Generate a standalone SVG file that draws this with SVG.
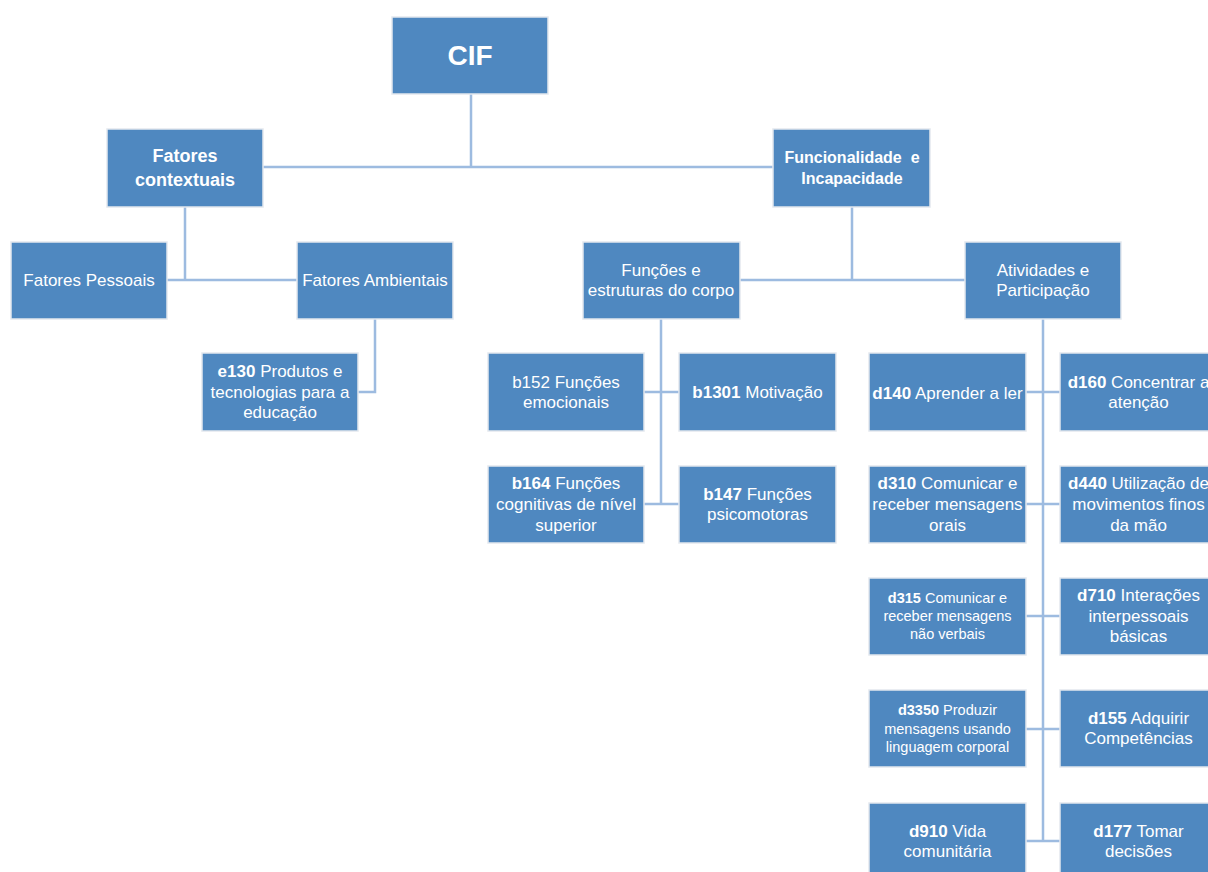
<svg xmlns="http://www.w3.org/2000/svg" width="1208" height="872" viewBox="0 0 1208 872">
<style>
.n{fill:#4F88C0;stroke:#e3e8ee;stroke-width:1.5}
text{font-family:"Liberation Sans",Arial,sans-serif;fill:#ffffff;text-anchor:middle;font-size:17px;white-space:pre}
.b{font-weight:bold}
.s{font-size:14.5px}
.c{fill:none;stroke:#9DBBE0;stroke-width:2.5}
</style>
<rect width="1208" height="872" fill="#ffffff"/>
<g id="connectors" class="c">
<path d="M471 94V167M263 167H773"/>
<path d="M185 207V280M167 280H297"/>
<path d="M375 319V392H358"/>
<path d="M852 207V280M740 280H965"/>
<path d="M661 319V504M644 392H679M644 504H679"/>
<path d="M1043 319V841M1026 392H1060M1026 504H1060M1026 616H1060M1026 729H1060M1026 841H1060"/>
</g>
<g id="cif"><rect class="n" x="392" y="17" width="156" height="77"/><text class="b" x="470" y="65" style="font-size:28px">CIF</text></g>
<g id="fatores-contextuais"><rect class="n" x="107" y="129" width="156" height="78"/><text class="b" x="185" y="162" style="font-size:18px">Fatores</text><text class="b" x="185" y="186" style="font-size:18px">contextuais</text></g>
<g id="funcionalidade"><rect class="n" x="773" y="129" width="157" height="78"/><text class="b" x="852" y="163" style="font-size:16px">Funcionalidade  e</text><text class="b" x="852" y="184" style="font-size:16px">Incapacidade</text></g>
<g id="fatores-pessoais"><rect class="n" x="11" y="242" width="156" height="77"/><text x="89" y="286">Fatores Pessoais</text></g>
<g id="fatores-ambientais"><rect class="n" x="297" y="242" width="156" height="77"/><text x="375" y="286">Fatores Ambientais</text></g>
<g id="e130"><rect class="n" x="202" y="353" width="156" height="78"/><text x="280" y="377"><tspan class="b">e130</tspan> Produtos e</text><text x="280" y="397.5">tecnologias para a</text><text x="280" y="418">educação</text></g>
<g id="funcoes-estruturas"><rect class="n" x="583" y="242" width="157" height="77"/><text x="661" y="275.5">Funções e</text><text x="661" y="296">estruturas do corpo</text></g>
<g id="atividades"><rect class="n" x="965" y="242" width="156" height="77"/><text x="1043" y="275.5">Atividades e</text><text x="1043" y="296">Participação</text></g>
<g id="b152"><rect class="n" x="488" y="353" width="156" height="78"/><text x="566" y="387.5">b152 Funções</text><text x="566" y="408">emocionais</text></g>
<g id="b1301"><rect class="n" x="679" y="353" width="157" height="78"/><text x="757.5" y="398"><tspan class="b">b1301</tspan> Motivação</text></g>
<g id="b164"><rect class="n" x="488" y="466" width="156" height="77"/><text x="566" y="489"><tspan class="b">b164</tspan> Funções</text><text x="566" y="510">cognitivas de nível</text><text x="566" y="530.5">superior</text></g>
<g id="b147"><rect class="n" x="679" y="466" width="157" height="77"/><text x="757.5" y="499.5"><tspan class="b">b147</tspan> Funções</text><text x="757.5" y="520">psicomotoras</text></g>
<g id="d140"><rect class="n" x="869" y="353" width="157" height="78"/><text x="947.5" y="398.5"><tspan class="b">d140</tspan> Aprender a ler</text></g>
<g id="d160"><rect class="n" x="1060" y="353" width="157" height="78"/><text x="1138.5" y="387.5"><tspan class="b">d160</tspan> Concentrar a</text><text x="1138.5" y="408">atenção</text></g>
<g id="d310"><rect class="n" x="869" y="466" width="157" height="77"/><text x="947.5" y="489"><tspan class="b">d310</tspan> Comunicar e</text><text x="947.5" y="510">receber mensagens</text><text x="947.5" y="530.5">orais</text></g>
<g id="d440"><rect class="n" x="1060" y="466" width="157" height="77"/><text x="1138.5" y="489"><tspan class="b">d440</tspan> Utilização de</text><text x="1138.5" y="510">movimentos finos</text><text x="1138.5" y="530.5">da mão</text></g>
<g id="d315"><rect class="n" x="869" y="578" width="157" height="77"/><text class="s" x="947.5" y="603"><tspan class="b">d315</tspan> Comunicar e</text><text class="s" x="947.5" y="621">receber mensagens</text><text class="s" x="947.5" y="639">não verbais</text></g>
<g id="d710"><rect class="n" x="1060" y="578" width="157" height="77"/><text x="1138.5" y="601"><tspan class="b">d710</tspan> Interações</text><text x="1138.5" y="621.5">interpessoais</text><text x="1138.5" y="642">básicas</text></g>
<g id="d3350"><rect class="n" x="869" y="690" width="157" height="77"/><text class="s" x="947.5" y="715"><tspan class="b">d3350</tspan> Produzir</text><text class="s" x="947.5" y="733.5">mensagens usando</text><text class="s" x="947.5" y="752">linguagem corporal</text></g>
<g id="d155"><rect class="n" x="1060" y="690" width="157" height="77"/><text x="1138.5" y="723.5"><tspan class="b">d155</tspan> Adquirir</text><text x="1138.5" y="744">Competências</text></g>
<g id="d910"><rect class="n" x="869" y="803" width="157" height="78"/><text x="947.5" y="836.5"><tspan class="b">d910</tspan> Vida</text><text x="947.5" y="857">comunitária</text></g>
<g id="d177"><rect class="n" x="1060" y="803" width="157" height="78"/><text x="1138.5" y="836.5"><tspan class="b">d177</tspan> Tomar</text><text x="1138.5" y="857">decisões</text></g>
</svg>
